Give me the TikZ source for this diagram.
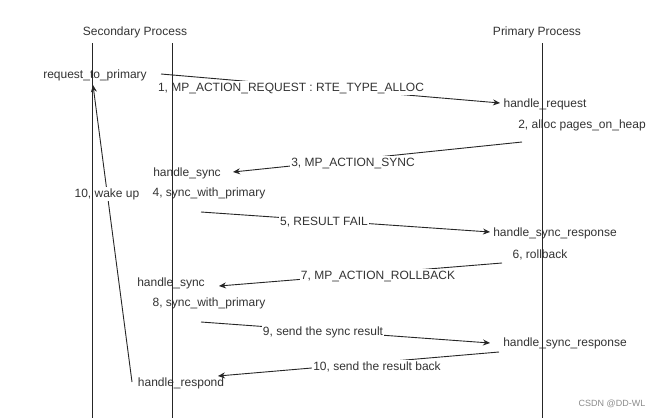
\documentclass[tikz,border=0pt]{standalone}
\usepackage{fontspec}
\setmainfont{Liberation Sans}
\usetikzlibrary{arrows.meta}
\begin{document}
\begin{tikzpicture}[x=1pt,y=-1pt,
  txt/.style={font=\fontsize{12}{14}\selectfont, text=black!80, inner sep=1pt, text height=9pt, text depth=3pt},
  lbl/.style={txt, fill=white},
  life/.style={draw=black!85, line width=0.9pt},
  msg/.style={draw=black!85, line width=0.9pt, -{Stealth[length=7pt,width=6pt]}},
  wmark/.style={font=\fontsize{9}{11}\selectfont, text=black!45, inner sep=0pt}]
\useasboundingbox (0,0) rectangle (664,418);
\fill[white] (0,0) rectangle (664,418);
% lifeline coordinates
\coordinate (sAt) at (92,43);  \coordinate (sAb) at (92,418);
\coordinate (sBt) at (172,43); \coordinate (sBb) at (172,418);
\coordinate (pt)  at (542,43); \coordinate (pb)  at (542,418);
% titles
\node[txt] (sec) at (135,32) {Secondary Process};
\node[txt] (pri) at (537,32) {Primary Process};
% state texts
\node[txt] (req)   at (95,75)  {request\_to\_primary};
\node[txt] (hreq)  at (545,104) {handle\_request};
\node[txt] (alloc) at (582,125) {2, alloc pages\_on\_heap};
\node[txt] (hs1)   at (187,173) {handle\_sync};
\node[txt] (sw1)   at (209,193) {4, sync\_with\_primary};
\node[txt] (hsr1)  at (555,233) {handle\_sync\_response};
\node[txt] (rb)    at (540,255) {6, rollback};
\node[txt] (hs2)   at (171,283) {handle\_sync};
\node[txt] (sw2)   at (209,303) {8, sync\_with\_primary};
\node[txt] (hsr2)  at (565,343) {handle\_sync\_response};
\node[txt] (hresp) at (181,383) {handle\_respond};
% message endpoints
\coordinate (a1s) at (161,74);  \coordinate (a1e) at (500,103);
\coordinate (a3s) at (522,142); \coordinate (a3e) at (233,172);
\coordinate (a5s) at (201,212); \coordinate (a5e) at (490,232);
\coordinate (a7s) at (502,263); \coordinate (a7e) at (219,286);
\coordinate (a9s) at (201,322); \coordinate (a9e) at (490,343);
\coordinate (a10s) at (499,352); \coordinate (a10e) at (218,376);
\coordinate (wks) at (132,382); \coordinate (wke) at (93,85);
% messages
\draw[msg] (a1s) -- (a1e);
\draw[msg] (a3s) -- (a3e);
\draw[msg] (a5s) -- (a5e);
\draw[msg] (a7s) -- (a7e);
\draw[msg] (a9s) -- (a9e);
\draw[msg] (a10s) -- (a10e);
\draw[msg] (wks) -- (wke);
% message labels
\node[lbl] (l1) at (291,88) {1, MP\_ACTION\_REQUEST : RTE\_TYPE\_ALLOC};
\node[lbl] (l3) at (353,163) {3, MP\_ACTION\_SYNC};
\node[lbl] (l5) at (324,222) {5, RESULT FAIL};
\node[lbl] (l7) at (378,276) {7, MP\_ACTION\_ROLLBACK};
\node[lbl] (l9) at (323,332) {9, send the sync result};
\node[lbl] (l10) at (377,367) {10, send the result back};
\node[lbl] (lw) at (107,194) {10, wake up};
% lifelines
\draw[life] (sAt) -- (sAb);
\draw[life] (sBt) -- (sBb);
\draw[life] (pt) -- (pb);
% watermark
\node[wmark] (wm) at (612,404) {CSDN @DD-WL};
\end{tikzpicture}
\end{document}
